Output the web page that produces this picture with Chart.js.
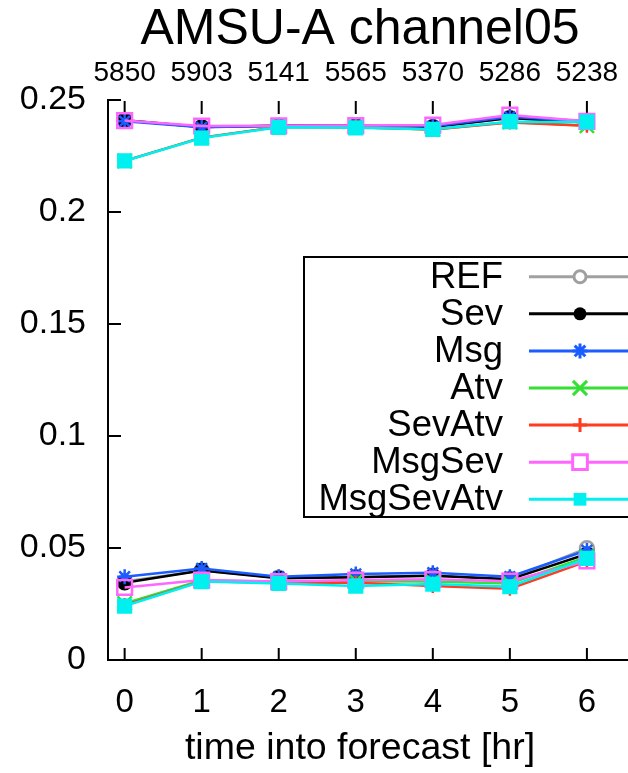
<!DOCTYPE html>
<html>
<head>
<meta charset="utf-8">
<script src="https://cdn.jsdelivr.net/npm/chart.js@4/dist/chart.umd.min.js"></script>
<style>
  body { margin:0; overflow:hidden; background:#fff; }
</style>
</head>
<body>
<canvas id="c" width="720" height="773"></canvas>
<script>
// values
const hours = [0, 1, 2, 3, 4, 5, 6];
const obsCounts = [5850, 5903, 5141, 5565, 5370, 5286, 5238];
const names = ['REF', 'Sev', 'Msg', 'Atv', 'SevAtv', 'MsgSev', 'MsgSevAtv'];
const yTicks = [0, 0.05, 0.1, 0.15, 0.2, 0.25];

// upper curves
const upREF       = [0.2410, 0.2380, 0.2385, 0.2385, 0.2380, 0.2420, 0.2400];
const upSev       = [0.2410, 0.2380, 0.2385, 0.2385, 0.2380, 0.2420, 0.2400];
const upMsg       = [0.2405, 0.2378, 0.2385, 0.2385, 0.2383, 0.2425, 0.2405];
const upAtv       = [0.2228, 0.2332, 0.2380, 0.2378, 0.2368, 0.2402, 0.2385];
const upSevAtv    = [0.2228, 0.2332, 0.2380, 0.2378, 0.2368, 0.2400, 0.2385];
const upMsgSev    = [0.2408, 0.2384, 0.2385, 0.2386, 0.2388, 0.2433, 0.2405];
const upMsgSevAtv = [0.2228, 0.2330, 0.2378, 0.2376, 0.2369, 0.2403, 0.2402];

// lower curves
const loREF       = [0.0350, 0.0400, 0.0367, 0.0370, 0.0377, 0.0362, 0.0499];
const loSev       = [0.0345, 0.0399, 0.0365, 0.0369, 0.0376, 0.0360, 0.0473];
const loMsg       = [0.0372, 0.0409, 0.0372, 0.0384, 0.0390, 0.0372, 0.0490];
const loAtv       = [0.0252, 0.0356, 0.0348, 0.0352, 0.0350, 0.0342, 0.0460];
const loSevAtv    = [0.0245, 0.0352, 0.0345, 0.0345, 0.0330, 0.0318, 0.0440];
const loMsgSev    = [0.0324, 0.0357, 0.0350, 0.0357, 0.0360, 0.0352, 0.0442];
const loMsgSevAtv = [0.0241, 0.0350, 0.0342, 0.0330, 0.0339, 0.0327, 0.0454];

const upper = [upREF, upSev, upMsg, upAtv, upSevAtv, upMsgSev, upMsgSevAtv];
const lower = [loREF, loSev, loMsg, loAtv, loSevAtv, loMsgSev, loMsgSevAtv];

// styles
const colors = ['#a0a0a0', '#000000', '#1a5cff', '#33e033', '#ff3b22', '#ff66ff', '#00f0f0'];
const marks  = ['circle', 'circle', 'star', 'crossRot', 'cross', 'rect', 'rect'];
const filled = [false, true, false, false, false, false, true];
const radii  = [7, 6.5, 7.5, 10, 7, 10.4, 9];

const FONT = 'Liberation Sans, Arial, Helvetica, sans-serif';

function mkSet(vals, i, tag){
  return {
    label: names[i] + tag,
    data: hours.map((h, k) => ({x: h, y: vals[k]})),
    borderColor: colors[i],
    backgroundColor: filled[i] ? colors[i] : 'rgba(0,0,0,0)',
    pointBorderColor: colors[i],
    pointBackgroundColor: filled[i] ? colors[i] : 'rgba(0,0,0,0)',
    pointStyle: marks[i],
    pointRadius: radii[i],
    pointBorderWidth: 2.5,
    borderWidth: 2.5,
    tension: 0,
    order: -i
  };
}

const datasets = [];
upper.forEach((v, i) => datasets.push(mkSet(v, i, '')));
lower.forEach((v, i) => datasets.push(mkSet(v, i, ' ')));

function drawMarker(ctx, i, x, y){
  const r = radii[i];
  ctx.save();
  ctx.strokeStyle = colors[i];
  ctx.fillStyle = colors[i];
  ctx.lineWidth = 3;
  ctx.beginPath();
  if (marks[i] === 'circle'){
    ctx.arc(x, y, filled[i] ? r : r - 1, 0, Math.PI * 2);
    if (filled[i]) ctx.fill(); else { ctx.fillStyle = '#fff'; ctx.fill(); ctx.stroke(); }
  } else if (marks[i] === 'rect'){
    const s = r * Math.SQRT1_2;
    ctx.rect(x - s, y - s, 2 * s, 2 * s);
    if (filled[i]) ctx.fill(); else { ctx.fillStyle = '#fff'; ctx.fill(); ctx.stroke(); }
  } else {
    const d = r * Math.SQRT1_2;
    if (marks[i] !== 'crossRot'){
      ctx.moveTo(x - r, y); ctx.lineTo(x + r, y);
      ctx.moveTo(x, y - r); ctx.lineTo(x, y + r);
    }
    if (marks[i] !== 'cross'){
      ctx.moveTo(x - d, y - d); ctx.lineTo(x + d, y + d);
      ctx.moveTo(x - d, y + d); ctx.lineTo(x + d, y - d);
    }
    ctx.stroke();
  }
  ctx.restore();
}

// gnuplot style inward ticks
const inwardTicks = {
  id: 'inwardTicks',
  beforeDatasetsDraw(chart){
    const {ctx, chartArea: a, scales} = chart;
    ctx.save();
    ctx.strokeStyle = '#000';
    ctx.lineWidth = 2;
    ctx.beginPath();
    scales.y.ticks.forEach(t => {
      const py = scales.y.getPixelForValue(t.value);
      ctx.moveTo(a.left, py); ctx.lineTo(a.left + 13, py);
    });
    scales.x.ticks.forEach(t => {
      const px = scales.x.getPixelForValue(t.value);
      ctx.moveTo(px, a.bottom); ctx.lineTo(px, a.bottom - 12);
    });
    scales.x2.ticks.forEach(t => {
      const px = scales.x2.getPixelForValue(t.value);
      ctx.moveTo(px, a.top + 1); ctx.lineTo(px, a.top + 14);
    });
    ctx.stroke();
    ctx.restore();
  }
};

// key box
const keyBox = {
  id: 'keyBox',
  afterDraw(chart){
    const ctx = chart.ctx;
    const left = 304, top = 257, bottom = 517, right = 760;
    const rowY = 276.7, rowH = 37.1;
    ctx.save();
    ctx.strokeStyle = '#000';
    ctx.lineWidth = 2;
    ctx.strokeRect(left, top, right - left, bottom - top);
    ctx.font = '36.5px ' + FONT;
    ctx.textAlign = 'right';
    ctx.textBaseline = 'middle';
    names.forEach((n, i) => {
      const y = rowY + i * rowH;
      ctx.fillStyle = '#000';
      ctx.fillText(n, 503, y + 1);
      ctx.strokeStyle = colors[i];
      ctx.lineWidth = 3;
      ctx.beginPath();
      ctx.moveTo(529, y); ctx.lineTo(700, y);
      ctx.stroke();
      drawMarker(ctx, i, 580, y);
    });
    ctx.restore();
  }
};

const xMin = -0.216, xMax = 7.56;
const intTicks = s => { s.ticks = hours.map(v => ({value: v})); };

new Chart(document.getElementById('c').getContext('2d'), {
  type: 'line',
  data: { datasets },
  options: {
    responsive: false,
    animation: false,
    devicePixelRatio: 1,
    layout: { padding: 0 },
    plugins: {
      legend: { display: false },
      tooltip: { enabled: false },
      title: {
        display: true,
        text: 'AMSU-A channel05',
        color: '#000',
        font: { family: FONT, size: 50, weight: 'normal', lineHeight: 1 },
        padding: { top: 5, bottom: 0 }
      },
      subtitle: {
        display: true,
        position: 'bottom',
        text: 'time into forecast [hr]',
        color: '#000',
        font: { family: FONT, size: 37.5, weight: 'normal', lineHeight: 1 },
        padding: { top: 0, bottom: 6 }
      }
    },
    scales: {
      x: {
        type: 'linear', position: 'bottom', min: xMin, max: xMax,
        afterBuildTicks: intTicks,
        afterFit: s => { s.height = 69.5; },
        grid: { display: false, drawTicks: false },
        border: { color: '#000', width: 2 },
        ticks: { color: '#000', font: { family: FONT, size: 33 }, padding: 23, maxRotation: 0, autoSkip: false }
      },
      x2: {
        type: 'linear', position: 'top', min: xMin, max: xMax,
        afterBuildTicks: intTicks,
        afterFit: s => { s.height = 45; },
        grid: { display: false, drawTicks: false },
        border: { display: false },
        ticks: { color: '#000', font: { family: FONT, size: 28 }, padding: 10, maxRotation: 0, autoSkip: false,
                 callback: v => String(obsCounts[hours.indexOf(v)]) }
      },
      y: {
        min: 0, max: 0.25,
        afterBuildTicks: s => { s.ticks = yTicks.map(v => ({value: v})); },
        afterFit: s => { s.width = 108; },
        grid: { display: false, drawTicks: false },
        border: { color: '#000', width: 2 },
        ticks: { color: '#000', font: { family: FONT, size: 34 }, padding: 22,
                 callback: v => String(+v.toFixed(2)) }
      }
    }
  },
  plugins: [inwardTicks, keyBox]
});
</script>
</body>
</html>
